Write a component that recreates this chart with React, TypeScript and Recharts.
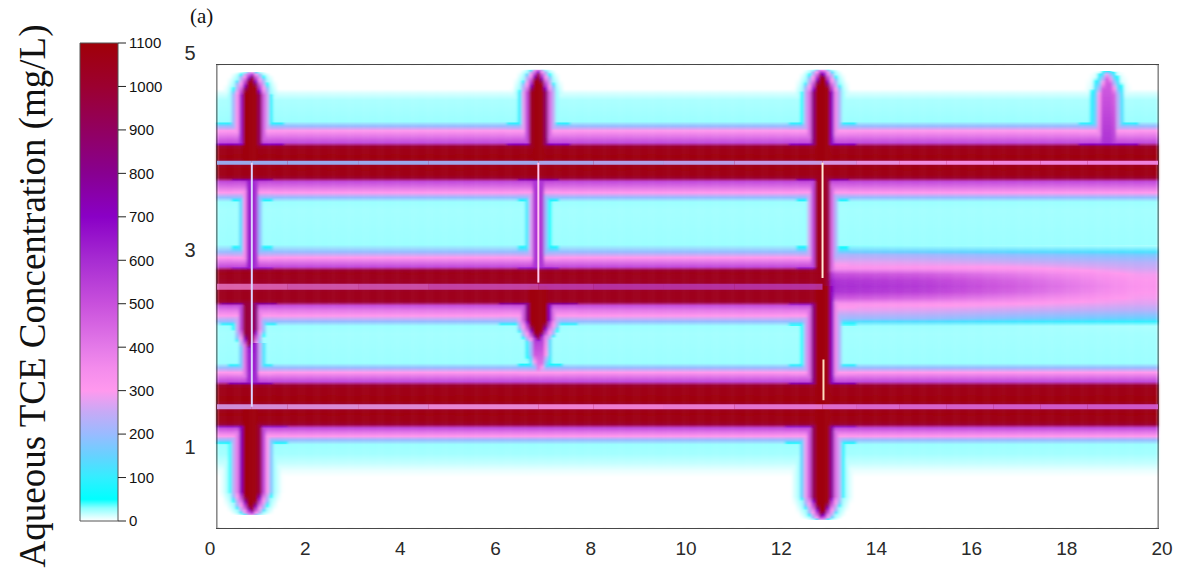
import React from 'react'
import { BarChart, Bar, XAxis, YAxis, ReferenceArea, ReferenceLine } from 'recharts'

// colour bar: concentration (mg/L) -> colour
const barTicks = [0, 100, 200, 300, 400, 500, 600, 700, 800, 900, 1000, 1100]
const cmapLevels = [0, 10, 30, 50, 100, 150, 200, 250, 300, 350, 400, 500, 600, 700, 800, 900, 1000, 1100]
const cmapColors = [
  '#ffffff', '#dcffff', '#8cffff', '#00ffff', '#33eeff', '#66d2ff', '#99bbff', '#c6aaf6', '#ff99ee',
  '#f48cec', '#e47ae8', '#c850dc', '#a72cd2', '#8a00c6', '#880090', '#920060', '#9c0030', '#a00008',
]

const xTicks = [0, 2, 4, 6, 8, 10, 12, 14, 16, 18, 20]
const yTicks = [1, 3, 5]

// horizontal fractures (m)
const fracY = [3.945, 2.606, 1.31]
// concentration inside the horizontal fractures, along x (null: not visible)
const lineX = [0, 0.74, 1.5, 3, 4.5, 6.83, 8, 9.5, 11, 12.87, 13.6, 14.5, 15.5, 16.5, 17.5, 18.5, 20]
const topLineC = [200, 200, 200, 200, 205, 215, 225, 235, 245, 260, 280, 290, 300, 315, 330, 335, 340]
const midLineC = [300, 330, 380, 400, 430, 480, 520, 520, 520, 520, null, null, null, null, null, null, null]
const botLineC = [260, 270, 270, 280, 280, 300, 315, 330, 350, 380, 400, 410, 420, 430, 440, 445, 450]

// matrix concentration read down a column at x ~ 4 m
const rowY = [
  0, 0.55, 0.62, 0.7, 0.8, 0.9, 0.95, 0.99, 1.04, 1.08, 1.12, 1.16, 1.24, 1.31, 1.38, 1.5, 1.54, 1.58, 1.63,
  1.68, 1.73, 1.78, 2.1, 2.18, 2.23, 2.29, 2.35, 2.4, 2.44, 2.48, 2.54, 2.61, 2.68, 2.75, 2.78, 2.82,
  2.87, 2.92, 2.98, 3.06, 3.44, 3.52, 3.57, 3.62, 3.68, 3.74, 3.78, 3.82, 3.89, 3.945, 4.0, 4.08, 4.12,
  4.16, 4.22, 4.29, 4.34, 4.39, 4.62, 4.7, 4.74, 5,
]
const rowC = [
  0, 0, 6, 16, 24, 26, 200, 300, 420, 520, 1000, 1070, 1080, 1000, 1080, 1070, 1000, 520, 420,
  300, 200, 26, 24, 26, 200, 300, 400, 500, 1000, 1050, 1050, 1000, 1040, 1060, 1000, 520,
  420, 300, 200, 26, 24, 26, 200, 300, 420, 520, 1000, 1070, 1080, 1000, 1080, 1070, 1000,
  520, 420, 300, 200, 26, 22, 10, 0, 0,
]

// middle fracture band east of the third vertical fracture
const midY = [2.18, 2.26, 2.35, 2.42, 2.48, 2.55, 2.61, 2.67, 2.74, 2.8, 2.87, 2.95, 3.05]
const midStationX = [12.92, 13.1, 15.0, 17.2, 19.6]
const midC131 = [26, 200, 280, 330, 480, 580, 600, 580, 500, 340, 280, 220, 30]
const midC150 = [26, 200, 270, 320, 440, 540, 560, 540, 470, 330, 270, 210, 26]
const midC172 = [24, 170, 250, 300, 370, 440, 460, 440, 390, 310, 250, 190, 24]
const midC196 = [22, 150, 230, 270, 290, 310, 320, 310, 290, 260, 230, 170, 22]
const midProfiles = [null, midC131, midC150, midC172, midC196]

// plumes along the vertical fractures (x, y range, concentration at both ends, core half width)
const plumes = [
  { x: 0.74, lo: 3.945, hi: 4.92, cLo: 1080, cHi: 1080, w: 0.15, tip: 'top' },
  { x: 0.74, lo: 2.61, hi: 3.945, cLo: 650, cHi: 650, w: 0.09, tip: '' },
  { x: 0.7, lo: 1.9, hi: 2.61, cLo: 980, cHi: 980, w: 0.12, tip: 'bottom' },
  { x: 0.74, lo: 1.31, hi: 2.0, cLo: 600, cHi: 650, w: 0.1, tip: '' },
  { x: 0.74, lo: 0.14, hi: 1.31, cLo: 1080, cHi: 1080, w: 0.16, tip: 'bottom' },
  { x: 6.83, lo: 3.945, hi: 4.95, cLo: 1080, cHi: 1080, w: 0.14, tip: 'top' },
  { x: 6.83, lo: 2.61, hi: 3.945, cLo: 580, cHi: 580, w: 0.09, tip: '' },
  { x: 6.83, lo: 2.0, hi: 2.61, cLo: 1080, cHi: 1080, w: 0.18, tip: 'bottom' },
  { x: 6.86, lo: 1.62, hi: 2.1, cLo: 350, cHi: 600, w: 0.1, tip: 'bottom' },
  { x: 12.87, lo: 3.945, hi: 4.95, cLo: 1080, cHi: 1080, w: 0.15, tip: 'top' },
  { x: 12.87, lo: 2.61, hi: 3.945, cLo: 1050, cHi: 1050, w: 0.12, tip: '' },
  { x: 12.87, lo: 1.31, hi: 2.61, cLo: 1080, cHi: 1080, w: 0.15, tip: '' },
  { x: 12.87, lo: 0.09, hi: 1.31, cLo: 1080, cHi: 1080, w: 0.16, tip: 'bottom' },
  { x: 18.94, lo: 3.945, hi: 4.93, cLo: 620, cHi: 450, w: 0.13, tip: 'top' },
]
// fall-off across a plume: distance / half width -> fraction of core value
const edgeR = [0, 1, 1.5, 2, 2.6, 2.9, 4.2]
const edgeF = [1, 1, 0.55, 0.3, 0.18, 0.025, 0]

// open (clean water) traces of the vertical fractures
const traces = [
  { x: 0.74, lo: 1.31, hi: 3.945 },
  { x: 6.83, lo: 2.65, hi: 3.945 },
  { x: 12.87, lo: 2.7, hi: 3.945 },
  { x: 12.89, lo: 1.38, hi: 1.82 },
]
const TRACE_COLORS = ['#dcd4ff', '#ffc8f0', '#ffead6', '#ffdcbc']
const FRAC_OPACITY = [0.9, 0.65, 0.85]
const FRAC_WIDTH = [4, 6, 5]

const FONT = "Arial, 'Liberation Sans', sans-serif"
const SERIF = "'Times New Roman', 'Liberation Serif', serif"

function lerp1(xs: number[], ys: number[], v: number) {
  const n = xs.length
  if (v <= xs[0]) return ys[0]
  if (v >= xs[n - 1]) return ys[n - 1]
  for (let i = 1; i < n; i++) {
    if (v <= xs[i]) {
      const t = (v - xs[i - 1]) / (xs[i] - xs[i - 1])
      return ys[i - 1] + t * (ys[i] - ys[i - 1])
    }
  }
  return ys[n - 1]
}

const rgbs = cmapColors.map((h) => [1, 3, 5].map((k) => parseInt(h.slice(k, k + 2), 16)))
function cmap(c: number) {
  const v = Math.max(0, Math.min(1100, c))
  let i = 1
  while (i < cmapLevels.length - 1 && v > cmapLevels[i]) i++
  const t = (v - cmapLevels[i - 1]) / (cmapLevels[i] - cmapLevels[i - 1])
  const a = rgbs[i - 1]
  const b = rgbs[i]
  const m = a.map((q, k) => Math.round(q + t * (b[k] - q)))
  return `rgb(${m[0]},${m[1]},${m[2]})`
}

function matrix(x: number, y: number) {
  const b = lerp1(rowY, rowC, y)
  if (x <= midStationX[0] || y < midY[0] || y > midY[midY.length - 1]) return b
  const prof = (k: number) => (k === 0 ? b : lerp1(midY, midProfiles[k] as number[], y))
  let k = 1
  while (k < midStationX.length - 1 && x > midStationX[k]) k++
  const t = Math.min(1, (x - midStationX[k - 1]) / (midStationX[k] - midStationX[k - 1]))
  return prof(k - 1) + t * (prof(k) - prof(k - 1))
}

function plumeValue(s: (typeof plumes)[number], x: number, y: number) {
  if (y < s.lo || y > s.hi) return 0
  const taper = 0.25
  let wf = 1
  if (s.tip === 'top' && y > s.hi - taper) wf = Math.sqrt((s.hi - y) / taper)
  if (s.tip === 'bottom' && y < s.lo + taper) wf = Math.sqrt((y - s.lo) / taper)
  const d = Math.abs(x - s.x) + (1 - wf) * 2 * s.w
  const c = s.cLo + ((s.cHi - s.cLo) * (y - s.lo)) / (s.hi - s.lo)
  return c * lerp1(edgeR, edgeF, d / s.w)
}

function conc(x: number, y: number) {
  let v = matrix(x, y)
  plumes.forEach((s) => {
    v = Math.max(v, plumeValue(s, x, y))
  })
  return v
}

// heat map columns (render grid)
const COLS = 250
const COL_W = 20 / COLS
const columns = Array.from({ length: COLS }, (_, i) => {
  const x = (i + 0.5) * COL_W
  const ys = new Set<number>(rowY)
  if (x > midStationX[0]) midY.forEach((v) => ys.add(v))
  plumes.forEach((s) => {
    if (Math.abs(x - s.x) < s.w * edgeR[edgeR.length - 1] + COL_W) {
      for (let y = s.lo; y <= s.hi; y += 0.025) ys.add(+y.toFixed(4))
      ys.add(s.lo)
      ys.add(s.hi)
      ys.add(s.lo - 0.002)
      ys.add(s.hi + 0.002)
    }
  })
  const sorted = [...ys].filter((y) => y >= 0 && y <= 5).sort((a, b) => b - a)
  return {
    id: i,
    x,
    top: 5,
    stops: sorted.map((y) => ({ off: (5 - y) / 5, color: cmap(conc(x, y)) })),
  }
})

// fracture lines split into pieces between the read x stations
const lineConc = [topLineC, midLineC, botLineC]
const fracPieces = fracY.flatMap((fy, f) =>
  lineX
    .slice(1)
    .map((x2, k) => {
      const a = lineConc[f][k]
      const b = lineConc[f][k + 1]
      if (a == null || b == null) return null
      return { f, y: fy, x1: lineX[k], x2, c: (a + b) / 2 }
    })
    .filter((p): p is { f: number; y: number; x1: number; x2: number; c: number } => p !== null),
)

const XTick = (p: any) => {
  const v = p.payload.value
  return (
    <text x={p.x - 7 + 0.55 * v} y={p.y} dy="0.71em" textAnchor="middle" fill="#2a2a2a" fontSize={19} fontFamily={FONT}>
      {v}
    </text>
  )
}

const YTick = (p: any) => {
  const v = p.payload.value
  return (
    <text x={p.x} y={p.y - 12 + 5.9 * (5 - v)} dy="0.36em" textAnchor="middle" fill="#2a2a2a" fontSize={20} fontFamily={FONT}>
      {v}
    </text>
  )
}

export default function App() {
  return (
    <div style={{ position: 'absolute', left: 0, top: 0, width: 1187, height: 578, background: '#fff', overflow: 'hidden' }}>
      <style>{`.heat { filter: url(#soft); }`}</style>
      <svg width={0} height={0} style={{ position: 'absolute' }}>
        <defs>
          <filter id="soft" x="-2%" y="-2%" width="104%" height="104%">
            <feGaussianBlur stdDeviation="1.6 0.6" edgeMode="duplicate" />
          </filter>
          {columns.map((c) => (
            <linearGradient key={c.id} id={`col${c.id}`} x1="0" y1="0" x2="0" y2="1">
              {c.stops.map((s, k) => (
                <stop key={k} offset={s.off} stopColor={s.color} />
              ))}
            </linearGradient>
          ))}
          <linearGradient id="cbar" x1="0" y1="1" x2="0" y2="0">
            {cmapLevels.map((l, k) => (
              <stop key={k} offset={l / 1100} stopColor={cmapColors[k]} />
            ))}
          </linearGradient>
        </defs>
      </svg>

      {/* colour bar */}
      <div style={{ position: 'absolute', left: 0, top: 0 }}>
        <BarChart width={200} height={578} data={[{ k: 'c', v: 1100 }]} margin={{ top: 43, right: 0, bottom: 57, left: 80 }} barCategoryGap={0}>
          <XAxis dataKey="k" hide />
          <YAxis
            orientation="right"
            width={82}
            domain={[0, 1100]}
            ticks={barTicks}
            interval={0}
            axisLine={false}
            tickSize={8}
            tickMargin={3}
            tickLine={{ stroke: '#222' }}
            tick={{ fill: '#111', fontSize: 15, fontFamily: FONT, textAnchor: 'start' }}
          />
          <Bar dataKey="v" fill="url(#cbar)" stroke="#555" strokeWidth={1} isAnimationActive={false} />
        </BarChart>
      </div>

      <div
        style={{
          position: 'absolute',
          left: 32,
          top: 296,
          transform: 'translate(-50%, -50%) rotate(-90deg)',
          whiteSpace: 'nowrap',
          fontFamily: SERIF,
          fontSize: 37,
          lineHeight: 1,
          color: '#111',
        }}
      >
        Aqueous TCE Concentration (mg/L)
      </div>
      <div style={{ position: 'absolute', left: 190, top: 4, fontFamily: SERIF, fontSize: 21, color: '#111' }}>(a)</div>

      {/* concentration field */}
      <div style={{ position: 'absolute', left: 0, top: 0 }}>
        <BarChart width={1187} height={578} data={columns} margin={{ top: 65, right: 29, bottom: 0, left: 0 }} barGap={0}>
          <XAxis
            dataKey="x"
            type="number"
            domain={[0, 20]}
            ticks={xTicks}
            interval={0}
            allowDataOverflow
            height={50}
            axisLine={false}
            tickLine={false}
            tickSize={0}
            tickMargin={14}
            tick={<XTick />}
          />
          <YAxis
            type="number"
            domain={[0, 5]}
            ticks={yTicks}
            interval={0}
            allowDataOverflow
            width={217}
            axisLine={false}
            tickLine={false}
            tickSize={0}
            tickMargin={27}
            tick={<YTick />}
          />
          <Bar
            dataKey="top"
            barSize={4}
            className="heat"
            isAnimationActive={false}
            shape={(p: any) => (
              <rect x={p.x - 0.4} y={p.y} width={p.width + 0.8} height={p.height} fill={`url(#col${p.payload.id})`} />
            )}
          />
          {fracPieces.map((p, i) => (
            <ReferenceLine
              key={`f${i}`}
              segment={[
                { x: p.x1, y: p.y },
                { x: p.x2, y: p.y },
              ]}
              stroke={cmap(p.c)}
              strokeOpacity={FRAC_OPACITY[p.f]}
              strokeWidth={FRAC_WIDTH[p.f]}
            />
          ))}
          {traces.map((t, i) => (
            <ReferenceLine
              key={`t${i}`}
              segment={[
                { x: t.x, y: t.lo },
                { x: t.x, y: t.hi },
              ]}
              stroke={TRACE_COLORS[i]}
              strokeWidth={2}
            />
          ))}
          <ReferenceArea x1={0} x2={20} y1={0} y2={5} fill="none" stroke="#474747" strokeWidth={2} />
        </BarChart>
      </div>
    </div>
  )
}
